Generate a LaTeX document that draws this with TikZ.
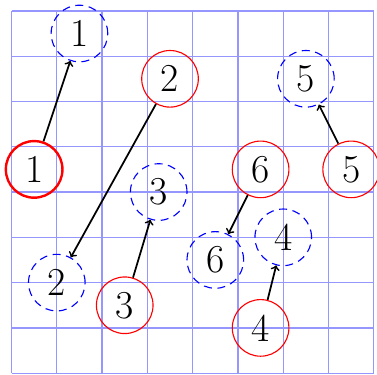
\documentclass[tikz,border=0pt]{standalone}
\usetikzlibrary{arrows}
\definecolor{gridblue}{RGB}{150,150,255}

\begin{document}
\begin{tikzpicture}[
  start/.style={circle, draw=red, line width=0.7pt, minimum size=1.25cm, inner sep=0pt, font=\Huge},
  goal/.style={circle, draw=blue, line width=0.7pt, dash pattern=on 5pt off 3.5pt, minimum size=1.25cm, inner sep=0pt, font=\Huge},
  move/.style={->, line width=1.1pt, black}]
\useasboundingbox (-0.254,-0.035) rectangle (8.07,8.24);

% Grid
\draw[gridblue, line width=0.8pt] (0,0) grid (8,8);

% Start positions
\node[start, line width=1.5pt] (s1) at (0.5,4.5) {1};
\node[start] (s2) at (3.5,6.5) {2};
\node[start] (s3) at (2.5,1.5) {3};
\node[start] (s4) at (5.5,1) {4};
\node[start] (s5) at (7.5,4.5) {5};
\node[start] (s6) at (5.5,4.5) {6};

% Goal positions
\node[goal] (g1) at (1.5,7.5) {1};
\node[goal] (g2) at (1,2) {2};
\node[goal] (g3) at (3.25,4) {3};
\node[goal] (g4) at (6,3) {4};
\node[goal] (g5) at (6.5,6.5) {5};
\node[goal] (g6) at (4.5,2.5) {6};

% Moves
\draw[move] (s1) -- (g1);
\draw[move] (s2) -- (g2);
\draw[move] (s3) -- (g3);
\draw[move] (s4) -- (g4);
\draw[move] (s5) -- (g5);
\draw[move] (s6) -- (g6);
\end{tikzpicture}
\end{document}
